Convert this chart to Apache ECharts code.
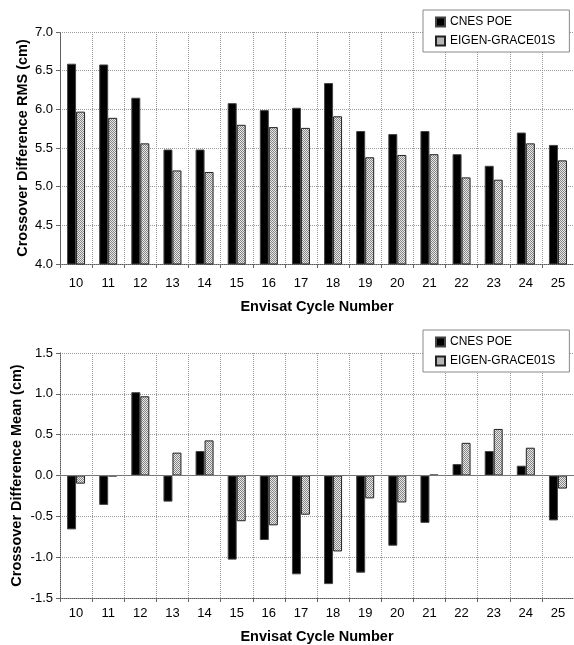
<!DOCTYPE html>
<html>
<head>
<meta charset="utf-8">
<script src="https://cdn.jsdelivr.net/npm/echarts@6/dist/echarts.min.js"></script>
<style>
html,body{margin:0;padding:0;background:#fff;}
#c{width:574px;height:645px;}
</style>
</head>
<body>
<div id="c"></div>
<script>
const cycles = ['10','11','12','13','14','15','16','17','18','19','20','21','22','23','24','25'];
const rmsCnes  = [6.59,6.58,6.15,5.48,5.48,6.08,5.99,6.02,6.34,5.72,5.68,5.72,5.42,5.27,5.70,5.54];
const rmsEigen = [5.97,5.89,5.56,5.21,5.19,5.80,5.77,5.76,5.91,5.38,5.41,5.42,5.12,5.09,5.56,5.34];
const meanCnes  = [-0.66,-0.36,1.02,-0.32,0.30,-1.03,-0.79,-1.21,-1.33,-1.19,-0.86,-0.58,0.14,0.30,0.12,-0.55];
const meanEigen = [-0.10,-0.01,0.97,0.28,0.43,-0.56,-0.61,-0.48,-0.93,-0.28,-0.33,0.01,0.40,0.57,0.34,-0.16];
const rmsTicks = {min:4.0, max:7.0, step:0.5};
const meanTicks = {min:-1.5, max:1.5, step:0.5};

// hatched (dotted checker) fill
const pc = document.createElement('canvas');
pc.width = 2; pc.height = 2;
const px = pc.getContext('2d');
px.fillStyle = '#e8e8e8'; px.fillRect(0,0,2,2);
px.fillStyle = '#858585'; px.fillRect(0,0,1,1); px.fillRect(1,1,1,1);
const hatch = {image: pc, repeat: 'repeat'};

const FONT = 'Liberation Sans, Arial, sans-serif';
const chart = echarts.init(document.getElementById('c'), null, {renderer:'canvas'});

function xAxis(gi){
  return {
    type:'category', gridIndex:gi, data:cycles,
    name:'Envisat Cycle Number', nameLocation:'middle', nameGap: gi===0 ? 35 : 31,
    nameMoveOverlap:false,
    nameTextStyle:{fontFamily:FONT,fontSize:14.5,fontWeight:'bold',color:'#000'},
    axisLine:{onZero:false, lineStyle:{color:'#555',type:'dotted',width:1}},
    axisTick:{show:true, length:4, lineStyle:{color:'#666'}},
    axisLabel:{fontFamily:FONT,fontSize:13,color:'#000',margin: gi===0 ? 13 : 9},
    splitLine:{show:true, interval:0, lineStyle:{color:'#999',type:'dotted',width:1}}
  };
}
function yAxis(gi, t, name){
  return {
    type:'value', gridIndex:gi, min:t.min, max:t.max, interval:t.step,
    name:name, nameLocation:'middle', nameGap: gi===0 ? 30 : 36, nameRotate:90,
    nameMoveOverlap:false,
    nameTextStyle:{fontFamily:FONT,fontSize:14.5,fontWeight:'bold',color:'#000'},
    axisLine:{show:true, lineStyle:{color:'#555',type:'dotted',width:1}},
    axisTick:{show:true, length:4, lineStyle:{color:'#666'}},
    axisLabel:{fontFamily:FONT,fontSize:13,color:'#000',margin:7,
      formatter:v=>v.toFixed(1)},
    splitLine:{show:true, lineStyle:{color:'#999',type:'dotted',width:1}}
  };
}
function legend(top){
  return {
    orient:'vertical', left:423, top:top, width:144,
    backgroundColor:'#fff', borderColor:'#888', borderWidth:1,
    padding:[6,14,5,12], itemGap:7, itemWidth:9, itemHeight:9,
    textStyle:{fontFamily:FONT,fontSize:12,color:'#000'},
    data:[{name:'CNES POE',icon:'rect'},{name:'EIGEN-GRACE01S',icon:'rect'}]
  };
}
function barSeries(name, xi, data, fill){
  return {
    name:name, type:'bar', xAxisIndex:xi, yAxisIndex:xi, data:data,
    barWidth:9, barGap:'0%', animation:false,
    itemStyle:{color:fill, borderColor: fill===hatch ? '#222' : '#444', borderWidth:1}
  };
}

const s3 = barSeries('CNES POE',1,meanCnes,'#000');
const s4 = barSeries('EIGEN-GRACE01S',1,meanEigen,hatch);
s4.markLine = {silent:true, symbol:'none', label:{show:false},
  lineStyle:{color:'#777',type:'solid',width:1}, data:[{yAxis:0}]};

chart.setOption({
  backgroundColor:'#fff',
  animation:false,
  grid:[
    {left:60, top:32, width:517, height:232},
    {left:60, top:353, width:517, height:250}
  ],
  legend:[legend(10), legend(330)],
  xAxis:[xAxis(0), xAxis(1)],
  yAxis:[yAxis(0,rmsTicks,'Crossover Difference RMS (cm)'), yAxis(1,meanTicks,'Crossover Difference Mean (cm)')],
  series:[
    barSeries('CNES POE',0,rmsCnes,'#000'),
    barSeries('EIGEN-GRACE01S',0,rmsEigen,hatch),
    s3, s4
  ]
});
</script>
</body>
</html>
